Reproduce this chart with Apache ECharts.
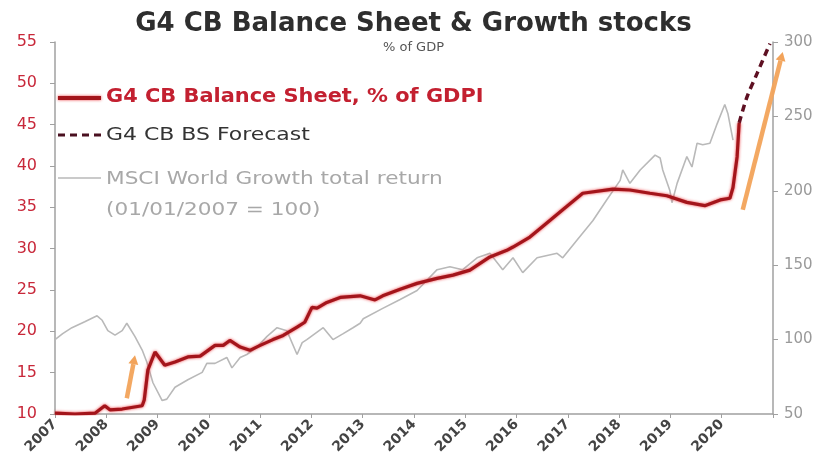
<!DOCTYPE html>
<html>
<head>
<meta charset="utf-8">
<script src="https://cdn.jsdelivr.net/npm/echarts@6/dist/echarts.min.js"></script>
<style>
  html, body { margin: 0; padding: 0; background: #fff; }
  #chart { width: 827px; height: 472px; }
</style>
</head>
<body>
<div id="chart"></div>
<script>
// G4 central-bank balance sheet (% of GDP), left axis; dates as decimal years
const bsDates = [2007.00, 2007.39, 2007.78, 2007.97, 2008.07, 2008.31, 2008.70, 2008.74, 2008.81, 2008.95,
  2009.14, 2009.34, 2009.59, 2009.83, 2010.12, 2010.28, 2010.41, 2010.61, 2010.80, 2011.00,
  2011.25, 2011.45, 2011.72, 2011.87, 2012.01, 2012.11, 2012.30, 2012.56, 2012.95, 2013.24,
  2013.39, 2013.73, 2014.06, 2014.45, 2014.76, 2015.09, 2015.48, 2015.81, 2015.93, 2016.26,
  2016.59, 2016.90, 2017.29, 2017.88, 2018.21, 2018.60, 2018.93, 2019.32, 2019.67, 2019.97,
  2020.16, 2020.22, 2020.30, 2020.34];
const bsValues = [10.1, 10.0, 10.1, 11.0, 10.5, 10.6, 11.0, 11.7, 15.3, 17.5,
  15.9, 16.3, 16.9, 17.0, 18.3, 18.3, 18.9, 18.1, 17.7, 18.3,
  19.0, 19.5, 20.5, 21.1, 22.9, 22.8, 23.5, 24.1, 24.3, 23.8,
  24.3, 25.1, 25.8, 26.4, 26.8, 27.4, 29.0, 29.8, 30.2, 31.4,
  33.1, 34.7, 36.7, 37.2, 37.1, 36.7, 36.4, 35.6, 35.2, 35.9,
  36.1, 37.4, 41.1, 45.2];

// Forecast path for the balance sheet
const fcDates = [2020.34, 2020.49, 2020.69, 2020.94];
const fcValues = [45.2, 48.3, 51.2, 54.8];

// MSCI World Growth total return index (01/01/2007 = 100), right axis
const msciDates = [2007.00, 2007.15, 2007.33, 2007.58, 2007.82, 2007.92, 2008.03, 2008.17, 2008.31, 2008.40,
  2008.56, 2008.70, 2008.79, 2008.91, 2009.09, 2009.18, 2009.34, 2009.59, 2009.87, 2009.96,
  2010.12, 2010.35, 2010.45, 2010.61, 2010.74, 2010.94, 2011.13, 2011.33, 2011.52, 2011.72,
  2011.82, 2011.91, 2012.11, 2012.23, 2012.42, 2012.62, 2012.81, 2012.95, 2013.01, 2013.39,
  2013.73, 2014.06, 2014.45, 2014.70, 2014.95, 2015.23, 2015.48, 2015.73, 2015.93, 2016.12,
  2016.40, 2016.79, 2016.90, 2017.18, 2017.49, 2017.76, 2018.02, 2018.07, 2018.21, 2018.41,
  2018.70, 2018.80, 2018.85, 2018.99, 2019.03, 2019.13, 2019.32, 2019.42, 2019.52, 2019.63,
  2019.77, 2019.91, 2020.06, 2020.12, 2020.22];
const msciValues = [100, 104, 108, 112, 116, 113, 106, 103, 106, 111,
  102, 93, 85, 71, 59, 60, 68, 73, 78, 84,
  84, 88, 81, 88, 90, 95, 102, 108, 106, 90,
  98, 100, 105, 108, 100, 104, 108, 111, 114, 121,
  127, 133, 147, 149, 147, 155, 158, 147, 155, 145,
  155, 158, 155, 167, 180, 194, 207, 214, 205, 214,
  224, 222, 214, 200, 192, 205, 223, 216, 232, 231,
  232, 245, 258, 252, 234];

// Axis ticks
const yearTicks = [2007, 2008, 2009, 2010, 2011, 2012, 2013, 2014, 2015, 2016, 2017, 2018, 2019, 2020];
const leftTicks = [10, 15, 20, 25, 30, 35, 40, 45, 50, 55];
const rightTicks = [50, 100, 150, 200, 250, 300];

// Orange highlight arrows, [start, end] in (year, % of GDP)
const arrowStarts = [[2008.40, 11.9], [2020.41, 34.7]];
const arrowEnds = [[2008.56, 17.1], [2021.19, 53.8]];

const zip = (xs, ys) => xs.map((x, i) => [x, ys[i]]);

const chart = echarts.init(document.getElementById('chart'));
const FONT = '"DejaVu Sans", Verdana, sans-serif';
const RED = '#a3151b';

const option = {
  animation: false,
  backgroundColor: '#ffffff',
  title: {
    text: 'G4 CB Balance Sheet & Growth stocks',
    subtext: '% of GDP',
    left: 'center',
    top: 6,
    itemGap: 4,
    textStyle: { fontFamily: FONT, fontWeight: 'bold', fontSize: 26, color: '#2e2e2e' },
    subtextStyle: { fontFamily: FONT, fontSize: 13, color: '#555' }
  },
  grid: { left: 55, right: 54, top: 42, bottom: 58 },
  xAxis: {
    type: 'value',
    min: yearTicks[0],
    max: 2021,
    interval: 1,
    axisLine: { lineStyle: { color: '#a0a0a0', width: 1.5 } },
    axisTick: { length: 4, lineStyle: { color: '#a0a0a0' } },
    splitLine: { show: false },
    axisLabel: {
      rotate: 45,
      margin: 8,
      fontFamily: FONT,
      fontSize: 14,
      fontWeight: 'bold',
      color: '#444',
      formatter: v => (yearTicks.includes(v) ? String(v) : '')
    }
  },
  yAxis: [
    {
      type: 'value',
      min: leftTicks[0],
      max: leftTicks[leftTicks.length - 1],
      interval: 5,
      axisLine: { show: true, lineStyle: { color: '#a0a0a0', width: 1.5 } },
      axisTick: { show: true, length: 5, lineStyle: { color: '#a0a0a0' } },
      splitLine: { show: false },
      axisLabel: { fontFamily: FONT, fontSize: 16, color: '#c8283a', margin: 18 }
    },
    {
      type: 'value',
      min: rightTicks[0],
      max: rightTicks[rightTicks.length - 1],
      interval: 50,
      position: 'right',
      axisLine: { show: true, lineStyle: { color: '#a0a0a0', width: 1.5 } },
      axisTick: { show: true, length: 5, lineStyle: { color: '#a0a0a0' } },
      splitLine: { show: false },
      axisLabel: { fontFamily: FONT, fontSize: 15, color: '#9a9a9a', margin: 11 }
    }
  ],
  series: [
    {
      name: 'MSCI World Growth total return',
      type: 'line',
      yAxisIndex: 1,
      data: zip(msciDates, msciValues),
      showSymbol: false,
      lineStyle: { color: '#b9b9b9', width: 1.6 },
      z: 2
    },
    {
      name: 'G4 CB BS Forecast',
      type: 'line',
      yAxisIndex: 0,
      data: zip(fcDates, fcValues),
      showSymbol: false,
      smooth: 0.3,
      lineStyle: { color: '#5e1022', width: 3.5, type: [7, 5] },
      z: 3
    },
    {
      name: 'G4 CB Balance Sheet, % of GDPI',
      type: 'line',
      yAxisIndex: 0,
      data: zip(bsDates, bsValues),
      showSymbol: false,
      lineStyle: {
        color: RED, width: 3.2,
        shadowColor: 'rgba(235, 40, 45, 0.9)', shadowBlur: 3
      },
      z: 4
    }
  ]
};
chart.setOption(option);

// Legend block, drawn as plain shapes and text in the upper-left corner
const legendText = (x, y, text, fill, font, scaleX, extra) => ({
  type: 'text', x: x, y: y, scaleX: scaleX,
  style: Object.assign({ text: text, fill: fill, font: font, textVerticalAlign: 'middle' }, extra || {})
});
const legendGraphics = [
  { type: 'line', shape: { x1: 58, y1: 98, x2: 101, y2: 98 },
    style: { stroke: RED, lineWidth: 4, shadowColor: 'rgba(235,40,45,0.9)', shadowBlur: 3 } },
  legendText(106, 97, 'G4 CB Balance Sheet, % of GDPI', '#c32030', 'bold 19px ' + FONT, 1.1),
  { type: 'line', shape: { x1: 58, y1: 135, x2: 101, y2: 135 },
    style: { stroke: '#4a1020', lineWidth: 3, lineDash: [7, 5] } },
  legendText(106, 135, 'G4 CB BS Forecast', '#333', '18px ' + FONT, 1.22),
  { type: 'line', shape: { x1: 58, y1: 178, x2: 101, y2: 178 },
    style: { stroke: '#b9b9b9', lineWidth: 1.5 } },
  legendText(106, 179, 'MSCI World Growth total return', '#a8a8a8', '18px ' + FONT, 1.2),
  legendText(106, 210, '(01/01/2007 = 100)', '#a8a8a8', '18px ' + FONT, 1.2)
];

// Orange arrows placed through the chart's own coordinate conversion
const arrowGraphics = [];
arrowStarts.forEach((s, i) => {
  const p0 = chart.convertToPixel({ xAxisIndex: 0, yAxisIndex: 0 }, s);
  const p1 = chart.convertToPixel({ xAxisIndex: 0, yAxisIndex: 0 }, arrowEnds[i]);
  const dx = p1[0] - p0[0], dy = p1[1] - p0[1];
  const len = Math.sqrt(dx * dx + dy * dy);
  const ux = dx / len, uy = dy / len;
  const head = 9, half = 5;
  const bx = p1[0] - ux * head, by = p1[1] - uy * head;
  arrowGraphics.push({
    type: 'line', z: 10,
    shape: { x1: p0[0], y1: p0[1], x2: bx, y2: by },
    style: { stroke: '#f2a35a', lineWidth: 4.5, opacity: 0.95 }
  });
  arrowGraphics.push({
    type: 'polygon', z: 10,
    shape: { points: [[p1[0], p1[1]], [bx - uy * half, by + ux * half], [bx + uy * half, by - ux * half]] },
    style: { fill: '#f2a35a' }
  });
});

chart.setOption({ graphic: legendGraphics.concat(arrowGraphics) });
</script>
</body>
</html>
